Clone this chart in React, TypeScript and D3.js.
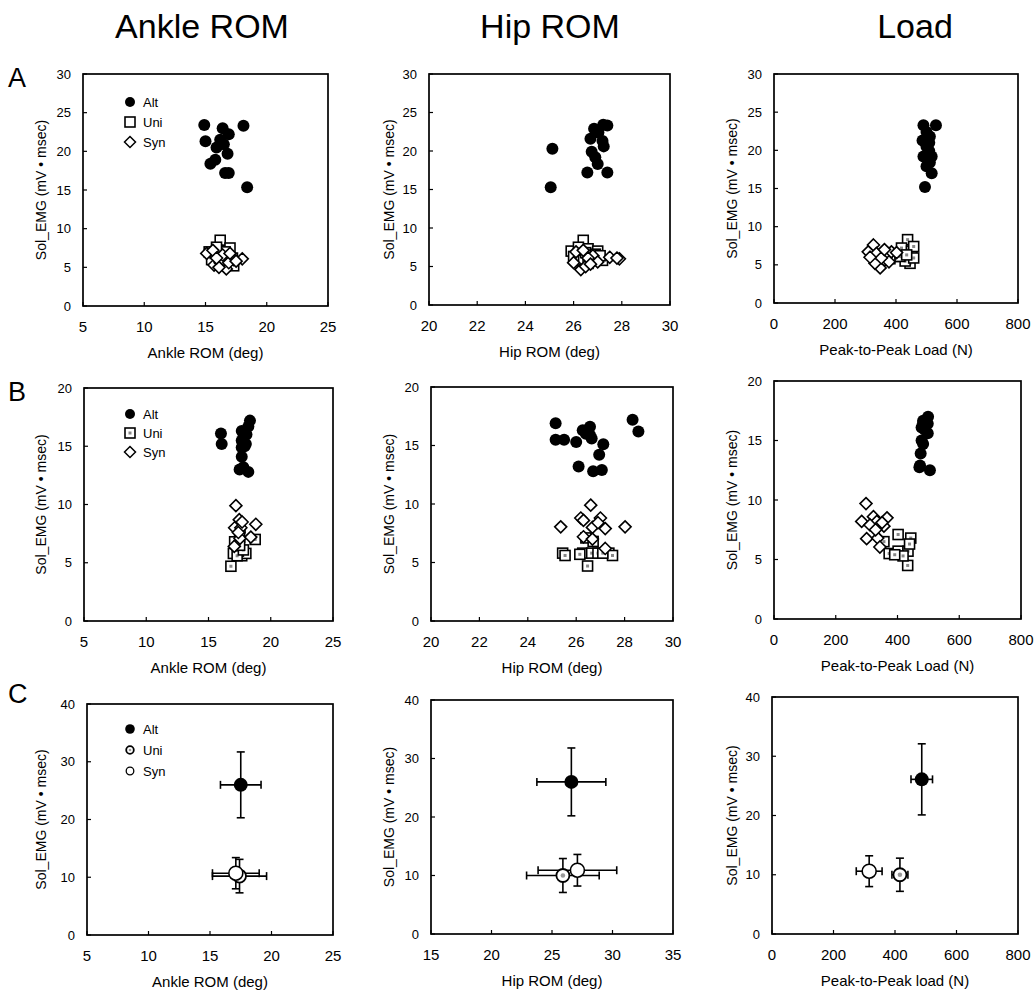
import React from 'react';
import * as d3 from 'd3';

type Pt = [number, number];
type EPt = [number, number, number, number]; // x, y, xErr, yErr

// ---------- Text ----------
const columnTitles = ['Ankle ROM', 'Hip ROM', 'Load'];
const rowLetters = ['A', 'B', 'C'];
const xLabelsAB = ['Ankle ROM (deg)', 'Hip ROM (deg)', 'Peak-to-Peak Load (N)'];
const xLabelsC = ['Ankle ROM (deg)', 'Hip ROM (deg)', 'Peak-to-Peak load (N)'];
const yLabel = 'Sol_EMG (mV \u2022 msec)';
const legendNames = ['Alt', 'Uni', 'Syn'];

// ---------- Axes ----------
const xTicksAnkle = [5, 10, 15, 20, 25];
const xTicksHipAB = [20, 22, 24, 26, 28, 30];
const xTicksHipC = [15, 20, 25, 30, 35];
const xTicksLoad = [0, 200, 400, 600, 800];
const yTicksA = [0, 5, 10, 15, 20, 25, 30];
const yTicksB = [0, 5, 10, 15, 20];
const yTicksC = [0, 10, 20, 30, 40];

// ---------- Row A data ----------
const A_ankle_alt: Pt[] = [[14.9, 23.4], [16.4, 23.0], [18.1, 23.3], [16.9, 22.2], [15.0, 21.3], [16.2, 21.5], [15.9, 20.5], [16.5, 20.9], [16.8, 19.7], [15.8, 18.9], [15.4, 18.4], [16.6, 17.2], [16.9, 17.2], [18.4, 15.35]];
const A_ankle_uni: Pt[] = [[16.2, 8.5], [15.5, 6.0], [15.3, 7.0], [16.0, 7.2], [16.5, 6.5], [17.0, 7.5], [16.8, 5.5], [17.2, 6.2], [15.8, 6.8], [16.3, 5.9], [16.6, 7.0], [17.3, 5.2], [15.9, 7.6], [16.7, 6.3]];
const A_ankle_syn: Pt[] = [[18.0, 6.1], [16.7, 4.8], [15.1, 6.8], [15.7, 5.3], [16.2, 5.6], [17.3, 6.0], [16.9, 5.6], [15.6, 7.2], [16.4, 6.6], [17.0, 6.8], [16.1, 5.0], [17.5, 5.8], [15.9, 6.2]];

const A_hip_alt: Pt[] = [[25.12, 20.3], [25.05, 15.3], [26.85, 22.9], [27.23, 23.4], [27.4, 23.3], [27.03, 22.4], [26.7, 21.6], [27.2, 21.3], [27.25, 20.6], [26.75, 19.9], [26.9, 19.2], [27.0, 18.3], [26.57, 17.2], [27.4, 17.2]];
const A_hip_uni: Pt[] = [[26.4, 8.4], [25.9, 7.0], [26.2, 6.5], [26.6, 7.3], [27.0, 7.0], [26.8, 6.0], [27.2, 5.8], [26.3, 5.8], [26.5, 6.8], [26.0, 6.3], [26.9, 6.6], [26.6, 5.4], [26.2, 7.5], [27.1, 6.4]];
const A_hip_syn: Pt[] = [[27.5, 6.2], [27.9, 6.0], [26.3, 4.6], [26.0, 5.5], [26.5, 5.0], [26.8, 6.4], [26.1, 6.9], [27.0, 5.6], [26.6, 6.1], [26.4, 7.1], [26.7, 5.3], [27.8, 6.1]];

const A_load_alt: Pt[] = [[495, 15.2], [517, 17.0], [511, 18.4], [490, 19.2], [509, 19.9], [487, 21.3], [509, 21.0], [500, 22.4], [490, 23.3], [531, 23.3], [500, 20.5], [517, 19.2], [500, 17.9], [511, 21.8]];
const A_load_uni: Pt[] = [[438, 8.3], [418, 7.2], [451, 6.8], [446, 5.2], [397, 6.1], [430, 5.5], [458, 7.4], [413, 6.1], [380, 5.8], [458, 5.9], [361, 5.6], [435, 6.3]];
const A_load_syn: Pt[] = [[326, 7.6], [348, 4.6], [331, 5.2], [367, 6.0], [309, 6.7], [336, 6.5], [377, 5.4], [352, 5.9], [385, 6.7], [315, 6.0], [402, 6.6], [362, 7.0]];

// ---------- Row B data ----------
const B_ankle_alt: Pt[] = [[16.0, 16.1], [16.06, 15.2], [18.33, 17.2], [18.2, 16.7], [17.67, 16.3], [18.05, 16.0], [17.67, 15.5], [18.0, 15.2], [17.67, 14.9], [17.67, 14.1], [17.5, 13.0], [18.2, 12.8], [17.8, 13.2], [17.9, 15.0]];
const B_ankle_uni: Pt[] = [[16.8, 4.7], [17.0, 5.8], [17.67, 5.6], [18.0, 5.8], [18.75, 7.0], [17.5, 7.2], [17.4, 6.0], [17.53, 8.0], [17.3, 5.6], [17.8, 6.1], [17.1, 6.8], [17.5, 6.5]];
const B_ankle_syn: Pt[] = [[17.2, 9.9], [18.8, 8.3], [17.47, 8.7], [17.1, 8.0], [17.6, 8.0], [17.53, 7.1], [18.4, 7.2], [17.07, 6.4], [17.4, 7.6], [17.7, 8.5]];

const B_hip_alt: Pt[] = [[25.15, 16.9], [25.15, 15.5], [25.5, 15.5], [26.0, 15.3], [26.27, 16.3], [26.57, 16.6], [26.57, 15.9], [26.64, 15.6], [27.12, 15.1], [26.95, 14.2], [26.1, 13.2], [26.7, 12.8], [27.06, 12.9], [28.33, 17.2], [28.57, 16.2], [26.4, 16.0]];
const B_hip_uni: Pt[] = [[25.44, 5.8], [25.54, 5.6], [26.47, 4.7], [26.27, 5.8], [26.64, 5.8], [26.9, 5.8], [27.35, 5.8], [27.5, 5.6], [26.4, 7.1], [26.15, 5.7], [27.1, 5.8], [26.7, 6.8]];
const B_hip_syn: Pt[] = [[25.36, 8.05], [26.6, 9.9], [26.19, 8.8], [27.0, 8.8], [27.2, 7.9], [28.02, 8.05], [26.67, 8.0], [26.3, 7.2], [26.67, 7.0], [27.2, 6.2], [26.9, 8.4], [26.3, 8.6]];

const B_load_alt: Pt[] = [[483, 16.65], [498, 16.4], [478, 16.1], [498, 15.6], [478, 15.0], [475, 13.9], [471, 12.75], [505, 12.5], [483, 16.5], [488, 15.9], [483, 14.7], [473, 12.9], [499, 17.0]];
const B_load_uni: Pt[] = [[402, 7.1], [443, 6.8], [433, 4.5], [373, 5.5], [402, 5.7], [434, 5.7], [418, 5.3], [356, 6.5], [391, 5.4], [439, 6.3]];
const B_load_syn: Pt[] = [[298, 9.7], [284, 8.2], [300, 6.75], [322, 8.6], [333, 8.2], [366, 8.5], [336, 6.8], [343, 6.05], [356, 7.8], [311, 7.9], [329, 7.5], [350, 8.1]];

// ---------- Row C data (mean, SD) ----------
const C_ankle_alt: EPt = [17.5, 26.0, 1.65, 5.7];
const C_ankle_uni: EPt = [17.4, 10.2, 2.2, 2.9];
const C_ankle_syn: EPt = [17.1, 10.7, 1.9, 2.7];
const C_hip_alt: EPt = [26.6, 26.0, 2.85, 5.8];
const C_hip_uni: EPt = [25.9, 10.0, 3.0, 2.9];
const C_hip_syn: EPt = [27.1, 10.9, 3.25, 2.7];
const C_load_alt: EPt = [487, 26.1, 35, 6.0];
const C_load_uni: EPt = [416, 10.0, 26, 2.8];
const C_load_syn: EPt = [316, 10.6, 42, 2.6];

// ---------- Layout ----------
const FONT = '"Liberation Sans", Arial, Helvetica, sans-serif';
const frames: [number, number, number, number][][] = [
  [[83, 74, 328, 306], [429, 74, 670, 305], [774, 74, 1018, 303]],
  [[84, 388, 333, 621], [431, 387, 673, 621], [774, 381, 1021, 619]],
  [[87, 704, 333, 935], [431, 700, 673, 934], [772, 697, 1018, 934]],
];
const yLabelX = [46, 394, 737];
const titleX = [202, 550, 915];
const letterY = [87, 401, 703];

interface ScatterSpec {
  frame: [number, number, number, number];
  xDomain: [number, number];
  xTicks: number[];
  yDomain: [number, number];
  yTicks: number[];
  xLabel: string;
  labelX: number;
}

function diamondPath(cx: number, cy: number, r: number) {
  return `M${cx},${cy - r}L${cx + r},${cy}L${cx},${cy + r}L${cx - r},${cy}Z`;
}

function Frame({ s, xs, ys }: { s: ScatterSpec; xs: d3.ScaleLinear<number, number>; ys: d3.ScaleLinear<number, number> }) {
  const [x0, y0, x1, y1] = s.frame;
  return (
    <g>
      <rect x={x0} y={y0} width={x1 - x0} height={y1 - y0} fill="none" stroke="#000" strokeWidth={1.7} />
      {s.xTicks.map((t) => (
        <g key={'x' + t}>
          <line x1={xs(t)} x2={xs(t)} y1={y1} y2={y1 - 4} stroke="#000" strokeWidth={1.2} />
          <text x={xs(t)} y={y1 + 26} fontSize={15} textAnchor="middle" fontFamily={FONT}>{t}</text>
        </g>
      ))}
      {s.yTicks.map((t) => (
        <g key={'y' + t}>
          <line x1={x0} x2={x0 + 4} y1={ys(t)} y2={ys(t)} stroke="#000" strokeWidth={1.2} />
          <text x={x0 - 12} y={ys(t) + 4.5} fontSize={13} textAnchor="end" fontFamily={FONT}>{t}</text>
        </g>
      ))}
      <text x={(x0 + x1) / 2} y={y1 + 52} fontSize={15} textAnchor="middle" fontFamily={FONT}>{s.xLabel}</text>
      <text transform={`translate(${s.labelX},${(y0 + y1) / 2}) rotate(-90)`} fontSize={14} textAnchor="middle" fontFamily={FONT}>{yLabel}</text>
    </g>
  );
}

function ScatterPanel({ s, alt, uni, syn, dotted, legend, legendYs }: { s: ScatterSpec; alt: Pt[]; uni: Pt[]; syn: Pt[]; dotted: boolean; legend: boolean; legendYs: number[] }) {
  const [x0, y0, x1, y1] = s.frame;
  const xs = d3.scaleLinear().domain(s.xDomain).range([x0, x1]);
  const ys = d3.scaleLinear().domain(s.yDomain).range([y1, y0]);
  const sq = 5;
  const square = (cx: number, cy: number, k: string) => (
    <g key={k}>
      <rect x={cx - sq} y={cy - sq} width={sq * 2} height={sq * 2} fill="#fff" stroke="#000" strokeWidth={1.6} />
      {dotted && <rect x={cx - 1.5} y={cy - 1.5} width={3} height={3} fill="#888" />}
    </g>
  );
  return (
    <g>
      <Frame s={s} xs={xs} ys={ys} />
      {alt.map((d, i) => <circle key={'a' + i} cx={xs(d[0])} cy={ys(d[1])} r={6} fill="#000" />)}
      {uni.map((d, i) => square(xs(d[0]), ys(d[1]), 'u' + i))}
      {syn.map((d, i) => (
        <path key={'s' + i} d={diamondPath(xs(d[0]), ys(d[1]), 6)} fill="#fff" stroke="#000" strokeWidth={1.6} />
      ))}
      {legend && (
        <g fontFamily={FONT} fontSize={13}>
          <circle cx={130} cy={legendYs[0]} r={5} fill="#000" />
          {square(130, legendYs[1], 'lu')}
          <path d={diamondPath(130, legendYs[2], 5.5)} fill="#fff" stroke="#000" strokeWidth={1.5} />
          {legendNames.map((n, i) => (
            <text key={n} x={143} y={legendYs[i] + 4.5}>{n}</text>
          ))}
        </g>
      )}
    </g>
  );
}

function ErrPanel({ s, alt, uni, syn, legend }: { s: ScatterSpec; alt: EPt; uni: EPt; syn: EPt; legend: boolean }) {
  const [x0, y0, x1, y1] = s.frame;
  const xs = d3.scaleLinear().domain(s.xDomain).range([x0, x1]);
  const ys = d3.scaleLinear().domain(s.yDomain).range([y1, y0]);
  const cap = 4;
  const bars = (d: EPt, k: string) => {
    const cx = xs(d[0]), cy = ys(d[1]);
    const xl = xs(d[0] - d[2]), xr = xs(d[0] + d[2]);
    const yt = ys(d[1] + d[3]), yb = ys(d[1] - d[3]);
    return (
      <g key={k} stroke="#000" strokeWidth={1.6}>
        <line x1={xl} x2={xr} y1={cy} y2={cy} />
        <line x1={cx} x2={cx} y1={yt} y2={yb} />
        <line x1={xl} x2={xl} y1={cy - cap} y2={cy + cap} />
        <line x1={xr} x2={xr} y1={cy - cap} y2={cy + cap} />
        <line x1={cx - cap} x2={cx + cap} y1={yt} y2={yt} />
        <line x1={cx - cap} x2={cx + cap} y1={yb} y2={yb} />
      </g>
    );
  };
  const uniMark = (cx: number, cy: number, r: number) => (
    <g>
      <circle cx={cx} cy={cy} r={r} fill="#fff" stroke="#000" strokeWidth={1.8} />
      <circle cx={cx} cy={cy} r={r * 0.35} fill="#999" />
    </g>
  );
  return (
    <g>
      <Frame s={s} xs={xs} ys={ys} />
      {bars(uni, 'bu')}
      {bars(syn, 'bs')}
      {bars(alt, 'ba')}
      {uniMark(xs(uni[0]), ys(uni[1]), 6.5)}
      <circle cx={xs(syn[0])} cy={ys(syn[1])} r={7} fill="#fff" stroke="#000" strokeWidth={1.6} />
      <circle cx={xs(alt[0])} cy={ys(alt[1])} r={7} fill="#000" />
      {legend && (
        <g fontFamily={FONT} fontSize={13}>
          <circle cx={130} cy={729} r={4.8} fill="#000" />
          {uniMark(130, 750, 3.8)}
          <circle cx={130} cy={771} r={3.8} fill="#fff" stroke="#000" strokeWidth={1.3} />
          {legendNames.map((n, i) => (
            <text key={n} x={143} y={[729, 750, 771][i] + 4.5}>{n}</text>
          ))}
        </g>
      )}
    </g>
  );
}

export default function App() {
  const xDomAB: [number, number][] = [[5, 25], [20, 30], [0, 800]];
  const xDomC: [number, number][] = [[5, 25], [15, 35], [0, 800]];
  const xTkAB = [xTicksAnkle, xTicksHipAB, xTicksLoad];
  const xTkC = [xTicksAnkle, xTicksHipC, xTicksLoad];
  const rowA = [[A_ankle_alt, A_ankle_uni, A_ankle_syn], [A_hip_alt, A_hip_uni, A_hip_syn], [A_load_alt, A_load_uni, A_load_syn]];
  const rowB = [[B_ankle_alt, B_ankle_uni, B_ankle_syn], [B_hip_alt, B_hip_uni, B_hip_syn], [B_load_alt, B_load_uni, B_load_syn]];
  const rowC: EPt[][] = [[C_ankle_alt, C_ankle_uni, C_ankle_syn], [C_hip_alt, C_hip_uni, C_hip_syn], [C_load_alt, C_load_uni, C_load_syn]];

  const spec = (r: number, c: number): ScatterSpec => ({
    frame: frames[r][c],
    xDomain: r < 2 ? xDomAB[c] : xDomC[c],
    xTicks: r < 2 ? xTkAB[c] : xTkC[c],
    yDomain: r === 0 ? [0, 30] : r === 1 ? [0, 20] : [0, 40],
    yTicks: r === 0 ? yTicksA : r === 1 ? yTicksB : yTicksC,
    xLabel: r < 2 ? xLabelsAB[c] : xLabelsC[c],
    labelX: yLabelX[c],
  });

  return (
    <svg width={1035} height={997} style={{ position: 'absolute', left: 0, top: 0, background: '#fff' }}>
      <rect x={0} y={0} width={1035} height={997} fill="#fff" />
      {columnTitles.map((t, i) => (
        <text key={t} x={titleX[i]} y={38} fontSize={34} textAnchor="middle" fontFamily={FONT}>{t}</text>
      ))}
      {rowLetters.map((l, i) => (
        <text key={l} x={8} y={letterY[i]} fontSize={27} fontFamily={FONT}>{l}</text>
      ))}
      {[0, 1, 2].map((c) => (
        <ScatterPanel key={'A' + c} s={spec(0, c)} alt={rowA[c][0]} uni={rowA[c][1]} syn={rowA[c][2]} dotted={c === 2} legend={c === 0} legendYs={[102, 122, 142]} />
      ))}
      {[0, 1, 2].map((c) => (
        <ScatterPanel key={'B' + c} s={spec(1, c)} alt={rowB[c][0]} uni={rowB[c][1]} syn={rowB[c][2]} dotted={true} legend={c === 0} legendYs={[414, 433, 452]} />
      ))}
      {[0, 1, 2].map((c) => (
        <ErrPanel key={'C' + c} s={spec(2, c)} alt={rowC[c][0]} uni={rowC[c][1]} syn={rowC[c][2]} legend={c === 0} />
      ))}
    </svg>
  );
}
